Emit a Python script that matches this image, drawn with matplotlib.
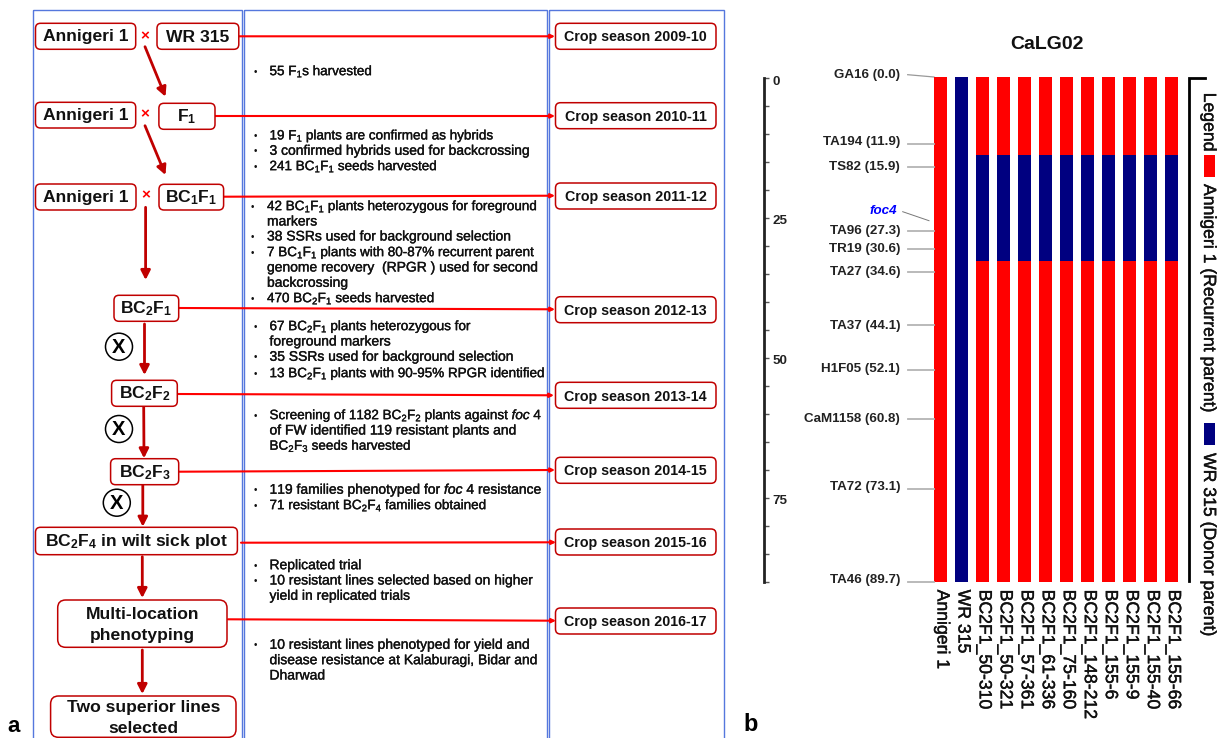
import matplotlib
matplotlib.use("Agg")
import matplotlib.pyplot as plt
from matplotlib.patches import FancyBboxPatch, Rectangle, Ellipse
from matplotlib.ticker import MultipleLocator
from matplotlib.transforms import blended_transform_factory, ScaledTranslation
import matplotlib.patheffects as pe

plt.rcParams['font.family'] = ['Liberation Sans', 'DejaVu Sans']
plt.rcParams['mathtext.fontset'] = 'custom'
plt.rcParams['mathtext.rm'] = 'Liberation Sans'
plt.rcParams['mathtext.it'] = 'Liberation Sans:italic'
plt.rcParams['mathtext.bf'] = 'Liberation Sans:bold'

# ---------- data ----------
lines = ['Annigeri 1', 'WR 315', 'BC2F1_50-310', 'BC2F1_50-321', 'BC2F1_57-361', 'BC2F1_61-336',
         'BC2F1_75-160', 'BC2F1_148-212', 'BC2F1_155-6', 'BC2F1_155-9', 'BC2F1_155-40', 'BC2F1_155-66']
segment_edges = [0.0, 13.9, 32.6, 89.7]
annigeri_segments = ['R', 'R', 'R']
wr315_segments = ['D', 'D', 'D']
bc_segments = ['R', 'D', 'R']
markers = ['GA16', 'TA194', 'TS82', 'TA96', 'TR19', 'TA27', 'TA37', 'H1F05', 'CaM1158', 'TA72', 'TA46']
marker_cm = [0.0, 11.9, 15.9, 27.3, 30.6, 34.6, 44.1, 52.1, 60.8, 73.1, 89.7]
scale_labels = [0, 25, 50, 75]
seasons = ['2009-10', '2010-11', '2011-12', '2012-13', '2013-14', '2014-15', '2015-16', '2016-17']
note_lines = [
    '55 F$_1$s harvested',
    '19 F$_1$ plants are confirmed as hybrids',
    '3 confirmed hybrids used for backcrossing',
    '241 BC$_1$F$_1$ seeds harvested',
    '42 BC$_1$F$_1$ plants heterozygous for foreground',
    'markers',
    '38 SSRs used for background selection',
    '7 BC$_1$F$_1$ plants with 80-87% recurrent parent',
    'genome recovery  (RPGR ) used for second',
    'backcrossing',
    '470 BC$_2$F$_1$ seeds harvested',
    '67 BC$_2$F$_1$ plants heterozygous for',
    'foreground markers',
    '35 SSRs used for background selection',
    '13 BC$_2$F$_1$ plants with 90-95% RPGR identified',
    'Screening of 1182 BC$_2$F$_2$ plants against $\\mathit{foc}$ 4',
    'of FW identified 119 resistant plants and',
    'BC$_2$F$_3$ seeds harvested',
    '119 families phenotyped for $\\mathit{foc}$ 4 resistance',
    '71 resistant BC$_2$F$_4$ families obtained',
    'Replicated trial',
    '10 resistant lines selected based on higher',
    'yield in replicated trials',
    '10 resistant lines phenotyped for yield and',
    'disease resistance at Kalaburagi, Bidar and',
    'Dharwad',
]
note_bullet = [1, 1, 1, 1, 1, 0, 1, 1, 0, 0, 1, 1, 0, 1, 1, 1, 0, 0, 1, 1, 1, 1, 0, 1, 0, 0]

# ---------- layout ----------
W, H = 1229, 738
RED, NAVY = '#ff0000', '#000080'
DARK = '#c00000'
BLUE = '#5577dd'
parent_colors = {'R': RED, 'D': NAVY}
note_y = [70.7, 135, 150.3, 165.7, 205.7, 221, 236, 251.7, 267, 282.3, 297.7, 325.7, 341, 356.3, 372.7,
          414.7, 430, 445.3, 489.3, 504.7, 564.7, 580, 595.3, 644.3, 659.7, 675]
note_x = [269.5] * 4 + [267] * 7 + [269.5] * 15
marker_label_y = [74.3, 141.3, 166, 229.7, 247.7, 270.7, 325, 368, 418.3, 485.7, 578.7]

fig = plt.figure(figsize=(W / 100, H / 100), dpi=100, facecolor='white')


def rect_px(x0, y0, x1, y1):
    return [x0 / W, 1 - y1 / H, (x1 - x0) / W, (y1 - y0) / H]


ov = fig.add_axes([0, 0, 1, 1], zorder=1)
ov.set_xlim(0, W)
ov.set_ylim(H, 0)
ov.axis('off')
ov.patch.set_visible(False)

# ---------- panel a: columns ----------
for x0, x1 in [(33, 241.5), (244, 547), (549, 723.5)]:
    ov.add_patch(Rectangle((x0, 9.5), x1 - x0, H, fill=False, ec=BLUE, lw=1.0))


def sub_bold(s):
    for d in '1234':
        s = s.replace('$_%s$' % d, '$_{\\mathbf{%s}}$' % d)
    return s


def box(x0, y0, x1, y1, rows, size=12.6, radius=5):
    ov.add_patch(FancyBboxPatch((x0 + 3, y0 + 3), x1 - x0 - 6, y1 - y0 - 6,
                                boxstyle='round,pad=3,rounding_size=%g' % radius, fc='white', ec=DARK,
                                lw=1.1, zorder=3))
    for label, yc in rows:
        ov.text((x0 + x1) / 2, yc + 5.2, sub_bold(label), ha='center', va='baseline', fontsize=size,
                fontweight='bold', color='#111111', zorder=4)


box(35.5, 23.3, 135.7, 49.3, [('Annigeri 1', 36.3)])
box(157, 23.3, 238.8, 49.3, [('WR 315', 36.3)])
box(35.5, 102.3, 135.7, 128, [('Annigeri 1', 115.2)])
box(158.9, 103.3, 215, 129.3, [('F$_1$', 116.3)])
box(35.5, 184, 136, 210, [('Annigeri 1', 197)])
box(159, 184.3, 223.6, 210, [('BC$_1$F$_1$', 197)])
box(114, 295.3, 178.7, 321.3, [('BC$_2$F$_1$', 308.3)])
box(111.6, 380.3, 177.3, 406.3, [('BC$_2$F$_2$', 393.3)])
box(110.6, 458.7, 178.7, 484.7, [('BC$_2$F$_3$', 471.7)])
box(35.5, 527.3, 237.4, 554.7, [('BC$_2$F$_4$ in wilt sick plot', 541)])
box(57.7, 600, 227, 647.3, [('Multi-location', 613.5), ('phenotyping', 634.5)], radius=8)
box(50.6, 696, 236, 737.3, [('Two superior lines', 706.5), ('selected', 727.5)], radius=8)

for (x, y) in [(145, 36.7), (145, 114), (145.6, 195.7)]:
    ov.text(x, y, '×', color=RED, fontsize=11, fontweight='bold', ha='center', va='center')

crop_y = [23.3, 102.7, 183, 296.7, 382.3, 457.3, 529, 608]
for s, y in zip(seasons, crop_y):
    box(555.5, y, 716, y + 26, [('Crop season ' + s, y + 13)], size=10.3)

conn = [(239, 36.3, 555, 36.3), (215, 116, 555, 116), (224, 196.7, 555, 195.7), (179, 308, 555, 309.3),
        (177.5, 394, 554, 395.3), (179.5, 471.7, 555, 470), (241, 542.7, 556, 542.3), (228, 619.3, 556, 620.7)]
for x0, y0, x1, y1 in conn:
    ov.annotate('', xy=(x1, y1), xytext=(x0, y0), zorder=2,
                arrowprops=dict(arrowstyle='-|>,head_length=0.25,head_width=0.12', color=RED, lw=1.5,
                                shrinkA=0, shrinkB=0))

down = [(145, 46.7, 165.5, 96.7), (145, 125.7, 165.5, 175), (145.6, 207.3, 145.6, 280), (144.5, 324, 144.5, 375),
        (143.7, 406.7, 144, 458.3), (142.8, 485, 142.8, 526.7), (142.3, 556.7, 142.3, 598), (142.3, 650, 142.3, 694)]
for x0, y0, x1, y1 in down:
    ov.annotate('', xy=(x1, y1), xytext=(x0, y0), zorder=2,
                arrowprops=dict(arrowstyle='-|>,head_length=0.55,head_width=0.28', color=DARK, lw=2.0,
                                shrinkA=0, shrinkB=0))

for x, y in [(119, 346.7), (119, 429), (116.8, 502.7)]:
    ov.add_patch(Ellipse((x, y), 27, 27, fc='white', ec='black', lw=1.1))
    ov.text(x, y + 0.5, 'X', ha='center', va='center', fontsize=14.5, fontweight='bold', color='black')

stroke = [pe.withStroke(linewidth=0.25, foreground='#111111')]
for t, x, y, b in zip(note_lines, note_x, note_y, note_bullet):
    size = 9.7 if '$_' in t else 10
    ov.text(x, y + 4.5, t, fontsize=size, ha='left', va='baseline', color='#111111', path_effects=stroke)
    if b:
        ov.text(x - 14.2, y + 4, '•', fontsize=7, ha='center', va='baseline', color='#111111')

ov.text(7, 732, 'a', fontsize=16, fontweight='bold', ha='left', va='baseline')
ov.text(743, 731, 'b', fontsize=17, fontweight='bold', ha='left', va='baseline')

# ---------- panel b: graphical genotype ----------
ax = fig.add_axes(rect_px(929.9, 77, 1182.2, 582), zorder=2)
ax.patch.set_visible(False)
ax.set_xlim(-0.5, len(lines) - 0.5)
ax.set_ylim(marker_cm[-1], 0)
for s in ax.spines.values():
    s.set_visible(False)
ax.tick_params(axis='y', left=False, labelleft=False)
all_segments = [annigeri_segments, wr315_segments] + [bc_segments] * (len(lines) - 2)
for i, segs in enumerate(all_segments):
    for j, p in enumerate(segs):
        ax.bar(i, segment_edges[j + 1] - segment_edges[j], bottom=segment_edges[j], width=0.6,
               color=parent_colors[p], lw=0)
ax.set_xticks(range(len(lines)))
ax.set_xticklabels(lines, rotation=270, fontsize=12.7, color='#111111')
ax.tick_params(axis='x', length=0, pad=5.5)
for lab in ax.get_xticklabels():
    lab.set_ha('center')
    lab.set_va('top')
    lab.set_transform(lab.get_transform() + ScaledTranslation(1.2 / 72, 0, fig.dpi_scale_trans))
    lab.set_path_effects([pe.withStroke(linewidth=0.3, foreground='#111111')])

tr = blended_transform_factory(ov.transData, ax.transData)
GREY = '#b4b4b4'
for m, cm, ly in zip(markers, marker_cm, marker_label_y):
    ov.text(900, ly + 4, '%s (%.1f)' % (m, cm), ha='right', va='baseline', fontsize=9.6,
            fontweight='bold', color='#222222')
    if cm == 0:
        ov.plot([907.7, 934], [74.7, 77], color='#999999', lw=0.9)
    else:
        ax.plot([907.7, 934], [cm, cm], color=GREY, lw=1.3, transform=tr, clip_on=False)
ov.text(897.5, 214.5, 'foc4', color='#0000ff', fontsize=9.6, fontweight='bold', fontstyle='italic',
        ha='right', va='baseline')
ov.plot([902.7, 929], [211.7, 220.7], color='#777777', lw=0.7)

# scale axis
sc = fig.add_axes(rect_px(764, 78, 764.5, 581.5), zorder=2)
sc.patch.set_visible(False)
sc.set_ylim(90, 0)
sc.set_xticks([])
for k in ('top', 'bottom', 'right'):
    sc.spines[k].set_visible(False)
sc.spines['left'].set_linewidth(2.0)
sc.spines['left'].set_color('#222222')
sc.yaxis.set_minor_locator(MultipleLocator(5))
sc.set_yticks(scale_labels)
sc.set_yticklabels([str(v) for v in scale_labels], fontsize=9.6, fontweight='bold', color='#222222')
sc.yaxis.tick_right()
sc.yaxis.set_ticks_position('right')
sc.tick_params(axis='y', which='both', direction='out', length=3.5, width=1.0, color='#555555', pad=2)
for lab in sc.get_yticklabels():
    lab.set_transform(lab.get_transform() + ScaledTranslation(0, -1.5 / 72, fig.dpi_scale_trans))

ov.text(1046.7, 49, 'CaLG02', fontsize=14, fontweight='bold', ha='center', va='baseline', color='#111111')

# legend bracket
ov.plot([1205, 1189, 1189], [78, 78, 581], color='black', lw=2.0, solid_joinstyle='miter')
leg = [('Legend', 92.7), ('Annigeri 1 (Recurrent parent)', 184), ('WR 315 (Donor parent)', 453)]
for t, y in leg:
    ov.text(1208.5, y, t, rotation=270, fontsize=12.7, ha='center', va='top', color='#111111',
            rotation_mode='default', path_effects=[pe.withStroke(linewidth=0.3, foreground='#111111')])
ov.add_patch(Rectangle((1204, 155), 11, 21.7, fc=parent_colors['R'], ec='none'))
ov.add_patch(Rectangle((1204, 422.7), 11, 22.3, fc=parent_colors['D'], ec='none'))

fig.savefig('out.png', dpi=100)
